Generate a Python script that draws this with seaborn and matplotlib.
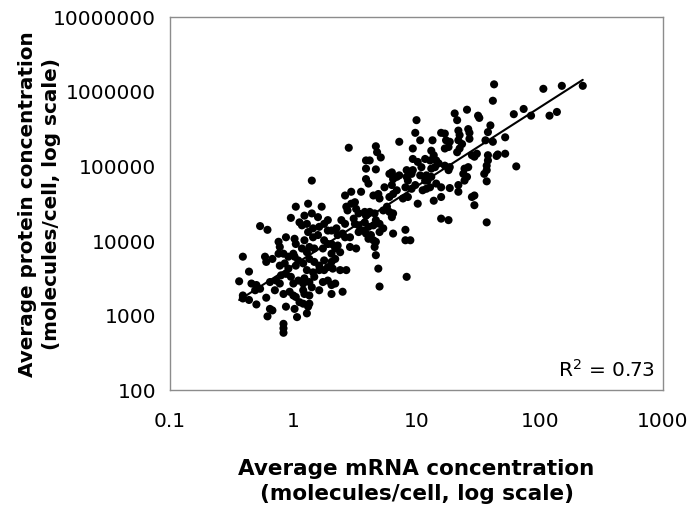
import numpy as np
import pandas as pd
import matplotlib
matplotlib.use("Agg")
import matplotlib.pyplot as plt
import seaborn as sns

# log10 of average mRNA concentration (molecules/cell)
log_mrna = [
    -0.44, -0.41, -0.41, -0.41, -0.36, -0.36, -0.34, -0.31, -0.30, -0.27, -0.30, -0.27,
    -0.21, -0.23, -0.22, -0.17, -0.22, -0.21, -0.17, -0.19, -0.19, -0.14, -0.15,
    -0.12, -0.11, -0.12, -0.08, -0.11, -0.07, -0.04, -0.04, -0.11, -0.10, -0.06, -0.02,
    -0.08, -0.03, -0.08, -0.08, -0.08, -0.06, 0.01, 0.03, -0.02, -0.06, 0.01, 0.02,
    0.00, 0.01, 0.04, 0.02, 0.08, 0.00, 0.04, 0.08, 0.00, 0.02, 0.05, 0.08, 0.09,
    0.08, 0.12, 0.11, 0.02, 0.12, 0.09, 0.05, 0.07, 0.11, 0.12, 0.09, 0.07, 0.11,
    0.09, 0.11, 0.13, 0.13, 0.13, 0.13, 0.13,
    0.15, 0.15, 0.20, 0.23, 0.16, 0.21, 0.25, 0.28, 0.16, 0.20, 0.25, 0.17, 0.24,
    0.28, 0.17, 0.21, 0.25, 0.31, 0.16, 0.21, 0.25, 0.28, 0.15, 0.17, 0.24, 0.28,
    0.31, 0.21, 0.28, 0.31, 0.35, 0.36, 0.40, 0.31, 0.34, 0.36, 0.38, 0.31, 0.34,
    0.32, 0.38, 0.34, 0.40, 0.31, 0.39,
    0.42, 0.42, 0.46, 0.46, 0.51, 0.43, 0.42, 0.47, 0.45, 0.43, 0.47, 0.50, 0.44,
    0.51, 0.53, 0.58, 0.49, 0.50, 0.53, 0.53, 0.57, 0.59, 0.61, 0.63, 0.65, 0.55,
    0.58, 0.61, 0.65, 0.59, 0.62, 0.66, 0.59, 0.59, 0.59, 0.61, 0.62, 0.67, 0.68,
    0.71, 0.67, 0.65, 0.69, 0.70, 0.67, 0.67, 0.66, 0.67, 0.69, 0.70, 0.70, 0.73,
    0.70,
    0.73, 0.76, 0.78, 0.80, 0.81, 0.74, 0.80, 0.84, 0.91, 0.96, 0.99, 1.05, 0.78,
    0.81, 0.89, 0.93, 1.01, 0.81, 0.91, 0.91, 0.95, 0.92, 0.78, 0.81, 0.86, 0.92,
    0.96, 1.03, 1.07, 0.84, 0.80, 0.92, 0.97, 1.04, 0.86, 0.97, 1.00, 0.99, 1.03,
    0.97, 1.01, 1.07, 0.93,
    1.11, 1.12, 1.12, 1.11, 1.14, 1.08, 1.09, 1.08, 1.16, 1.20, 1.27, 1.34, 1.34,
    1.41, 1.39, 1.57, 1.20, 1.45, 1.47, 1.47, 1.20, 1.26, 1.57, 1.15, 1.23, 1.27,
    1.26, 1.39, 1.38, 1.42, 1.57, 1.57, 1.55, 1.12, 1.14, 1.16, 1.18, 1.33, 1.35,
    1.45, 1.47, 1.49, 1.58, 1.58, 1.65, 1.66, 1.23, 1.26, 1.13, 1.24, 1.27, 1.34,
    1.37, 1.43, 1.56, 1.62, 1.20, 1.23, 1.34, 1.35, 1.42, 1.43, 1.60, 1.58, 1.50,
    1.51, 1.31, 1.33, 1.41, 1.63, 1.62,
    1.72, 1.72, 1.79, 1.87, 1.93, 1.81, 2.03, 2.18, 2.35, 2.08, 2.14,
]

# log10 of average protein concentration (molecules/cell)
log_protein = [
    3.46, 3.79, 3.27, 3.23, 3.59, 3.21, 3.43, 3.34, 3.41, 3.36, 3.15, 4.20,
    4.15, 3.79, 3.72, 3.76, 3.24, 2.99, 3.07, 3.09, 3.45, 3.47, 3.34,
    3.99, 3.92, 3.83, 3.83, 3.67, 3.70, 3.79, 3.63, 3.43, 3.54, 3.56, 3.52,
    3.29, 3.32, 2.89, 2.83, 2.77, 3.12, 3.09, 2.98, 4.31, 4.05, 4.03, 3.96,
    3.83, 3.79, 3.74, 3.67, 3.70, 3.43, 3.47, 3.43, 3.27, 3.25, 3.18, 3.34, 3.29,
    3.16, 3.12, 3.03, 4.46, 4.50, 4.34, 4.25, 4.21, 4.23, 4.12, 4.01, 3.90, 3.85,
    3.50, 3.61, 3.76, 3.92, 3.45, 3.27, 3.16,
    4.37, 4.81, 4.32, 4.46, 4.17, 4.19, 4.23, 4.14, 4.05, 4.08, 4.01, 3.90, 3.90,
    3.96, 3.72, 3.67, 3.74, 3.72, 3.58, 3.61, 3.61, 3.65, 3.38, 3.52, 3.45, 3.47,
    3.41, 3.34, 4.28, 4.14, 4.17, 4.08, 4.10, 3.96, 3.90, 3.94, 3.85, 3.83, 3.76,
    3.63, 3.61, 3.43, 3.32, 3.29, 4.28,
    4.23, 4.05, 4.05, 3.92, 3.90, 3.61, 4.61, 4.66, 5.25, 4.46, 4.50, 4.52, 4.41,
    4.43, 4.37, 4.39, 4.30, 4.23, 4.21, 4.12, 4.14, 4.10, 4.03, 4.08, 4.01, 4.66,
    4.25, 4.19, 4.21, 4.34, 4.39, 4.37, 5.08, 4.97, 4.83, 4.77, 5.08, 5.27, 5.19,
    5.12, 4.96, 4.61, 4.63, 4.57, 4.28, 3.99, 3.92, 3.81, 3.63, 3.39, 4.23, 4.17,
    4.12,
    4.41, 4.46, 4.39, 4.32, 4.37, 4.72, 4.75, 4.68, 4.72, 4.70, 4.75, 4.68, 4.59,
    4.63, 4.57, 4.59, 4.50, 4.10, 4.15, 4.01, 4.01, 3.52, 4.90, 4.83, 4.88, 4.86,
    4.90, 4.88, 4.81, 4.86, 4.92, 4.95, 4.95, 4.99, 5.33, 5.24, 5.62, 5.45, 5.35,
    5.10, 5.06, 5.10, 4.81,
    5.08, 4.97, 4.86, 4.72, 4.54, 4.88, 4.81, 4.70, 4.77, 4.72, 4.71, 4.75, 4.66,
    4.86, 4.81, 4.80, 4.59, 4.59, 4.61, 4.48, 4.30, 4.28, 4.25, 4.99, 5.01, 4.99,
    4.95, 4.97, 4.90, 4.99, 5.01, 4.95, 4.90, 5.21, 5.15, 5.08, 5.04, 5.19, 5.24,
    5.15, 5.13, 5.17, 5.15, 5.08, 5.14, 5.16, 5.24, 5.26, 5.35, 5.35, 5.33, 5.35,
    5.30, 5.37, 5.35, 5.33, 5.45, 5.44, 5.48, 5.42, 5.50, 5.45, 5.55, 5.46, 5.68,
    5.65, 5.71, 5.62, 5.76, 6.10, 5.88,
    5.39, 5.17, 5.70, 5.77, 5.68, 5.00, 6.04, 6.08, 6.08, 5.68, 5.73,
]

x_ticks = [0.1, 1, 10, 100, 1000]
x_tick_labels = ["0.1", "1", "10", "100", "1000"]
y_ticks = [100, 1000, 10000, 100000, 1000000, 10000000]
y_tick_labels = ["100", "1000", "10000", "100000", "1000000", "10000000"]
r2_text = "R$^2$ = 0.73"

n = min(len(log_mrna), len(log_protein))
df = pd.DataFrame({
    "mrna": 10 ** np.array(log_mrna[:n]),
    "protein": 10 ** np.array(log_protein[:n]),
})

sns.set_style("white")
plt.rcParams["font.family"] = ["DejaVu Sans"]
plt.rcParams["text.color"] = "black"
plt.rcParams["axes.labelcolor"] = "black"
plt.rcParams["mathtext.fontset"] = "dejavusans"

fig = plt.figure(figsize=(6.89, 5.21), dpi=100)
ax = fig.add_axes([0.247, 0.251, 0.715, 0.716])

sns.scatterplot(data=df, x="mrna", y="protein", ax=ax, color="black",
                s=34, edgecolor="none", linewidth=0, legend=False)

# power-law trend line fitted in log-log space
lx = np.log10(df["mrna"].values)
ly = np.log10(df["protein"].values)
slope, intercept = np.polyfit(lx, ly, 1)
fit_x = np.array([lx.min(), lx.max()])
fit_df = pd.DataFrame({"mrna": 10 ** fit_x, "protein": 10 ** (intercept + slope * fit_x)})
sns.lineplot(data=fit_df, x="mrna", y="protein", ax=ax, color="black", linewidth=1.5)

ax.set_xscale("log")
ax.set_yscale("log")
ax.set_xlim(0.1, 1000)
ax.set_ylim(100, 10000000)
ax.set_xticks(x_ticks)
ax.set_xticklabels(x_tick_labels)
ax.set_yticks(y_ticks)
ax.set_yticklabels(y_tick_labels)
ax.minorticks_off()

for sp in ax.spines.values():
    sp.set_color("#8c8c8c")
    sp.set_linewidth(1.0)
ax.tick_params(axis="both", which="major", direction="out", length=5, width=1,
               color="#8c8c8c", labelsize=14.5, labelcolor="black", pad=5)
ax.tick_params(axis="x", pad=11)

ax.set_xlabel("Average mRNA concentration\n(molecules/cell, log scale)",
              fontsize=15.5, fontweight="bold", linespacing=1.3)
ax.set_ylabel("Average protein concentration\n(molecules/cell, log scale)",
              fontsize=14.4, fontweight="bold", linespacing=1.3)
ax.xaxis.set_label_coords(0.5, -0.185)
ax.yaxis.set_label_coords(-0.222, 0.5)

ax.text(0.985, 0.025, r2_text, transform=ax.transAxes, ha="right", va="bottom",
        fontsize=14.5, color="black")

fig.savefig("out.png", dpi=100)
